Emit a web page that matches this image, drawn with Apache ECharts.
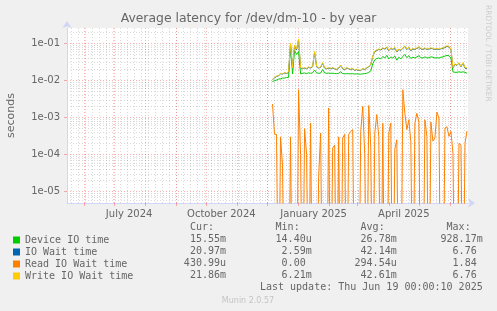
<!DOCTYPE html>
<html><head><meta charset="utf-8">
<script src="https://cdn.jsdelivr.net/npm/echarts@6/dist/echarts.min.js"></script>
<style>html,body{margin:0;padding:0;background:#f0f0f0}#c{width:497px;height:311px}</style>
</head><body><div id="c"></div>
<script>
// ---- data ----
const startDay = Date.UTC(2024, 11, 6);   // first sample
const stepDays = 2;                        // spacing of samples
const deviceIO = [0.0093,0.0098,0.0102,0.0108,0.011,0.0115,0.0115,0.012,0.012,0.08,
 0.015,0.065,0.05,0.06,0.015,0.0155,0.0158,0.0152,0.016,0.0155,
 0.016,0.019,0.016,0.0155,0.0157,0.0195,0.016,0.0155,0.0157,0.0155,
 0.0156,0.0153,0.0152,0.0155,0.017,0.0153,0.015,0.0152,0.0151,0.015,
 0.0152,0.0148,0.015,0.0148,0.0147,0.015,0.0152,0.0155,0.0165,0.018,
 0.028,0.036,0.039,0.04,0.038,0.044,0.04,0.047,0.038,0.043,
 0.04,0.045,0.035,0.042,0.038,0.044,0.05,0.041,0.046,0.039,
 0.042,0.04,0.043,0.046,0.041,0.04,0.043,0.04,0.041,0.043,
 0.042,0.04,0.041,0.04,0.042,0.043,0.045,0.047,0.046,0.04,
 0.017,0.0165,0.0165,0.017,0.0165,0.017,0.0165,0.0155];
const ioWait = [0.0105,0.0117,0.0127,0.0132,0.0152,0.0147,0.0158,0.0152,0.0166,0.095,
 0.0215,0.086,0.067,0.125,0.0215,0.0205,0.0214,0.0205,0.0224,0.0215,
 0.0234,0.057,0.0234,0.0215,0.0224,0.029,0.0215,0.0205,0.0214,0.0205,
 0.0214,0.0205,0.0195,0.0214,0.0253,0.0205,0.0195,0.0214,0.0205,0.0195,
 0.0205,0.0185,0.0195,0.0185,0.0185,0.0205,0.0195,0.0214,0.0234,0.0263,
 0.044,0.06,0.064,0.068,0.066,0.073,0.07,0.077,0.063,0.073,
 0.068,0.075,0.058,0.068,0.064,0.073,0.082,0.068,0.077,0.063,
 0.07,0.068,0.073,0.077,0.071,0.068,0.073,0.068,0.07,0.073,
 0.071,0.068,0.07,0.068,0.071,0.073,0.077,0.082,0.08,0.068,
 0.0215,0.027,0.0254,0.029,0.0234,0.029,0.0214,0.021];
const readWait = [2.3e-3,3.5e-4,3.5e-4,0,3.0e-4,5e-5,0,0,0,3e-4,
 0,0,0,5.6e-3,1e-4,0,5e-4,1e-4,0,7e-4,
 0,0,0,2.5e-5,3.8e-4,0,0,0,1.8e-3,0,
 1.5e-4,1.8e-4,0,3e-4,0,2.8e-4,3.5e-4,0,3.5e-4,4.2e-4,
 4.7e-4,0,0,0,4.2e-4,2e-3,1e-4,0,2.1e-3,1.6e-4,
 0,3.8e-4,1.2e-3,3.1e-4,0,7e-4,0,0,3.8e-4,7e-4,
 0,1.4e-4,2.5e-4,0,0,5.6e-3,1.3e-3,4.7e-4,8.7e-4,2.2e-4,
 0,7e-4,1.3e-3,7.5e-4,0,0,8.7e-4,3.1e-4,0,7.5e-4,
 2.3e-4,2.8e-4,1.4e-3,9.5e-4,0,0,5.2e-4,5.6e-4,3.1e-4,4.2e-4,
 1.1e-4,0,0,2e-4,1.8e-4,0,2e-4,4.3e-4];
const writeWait = [0.0108,0.012,0.013,0.0135,0.0156,0.015,0.0162,0.0156,0.017,0.1,
 0.022,0.09,0.07,0.13,0.022,0.021,0.022,0.021,0.023,0.022,
 0.024,0.06,0.024,0.022,0.023,0.03,0.022,0.021,0.022,0.021,
 0.022,0.021,0.02,0.022,0.026,0.021,0.02,0.022,0.021,0.02,
 0.021,0.019,0.02,0.019,0.019,0.021,0.02,0.022,0.024,0.027,
 0.045,0.062,0.066,0.07,0.068,0.075,0.072,0.08,0.065,0.075,
 0.07,0.078,0.06,0.07,0.066,0.075,0.085,0.07,0.08,0.065,
 0.072,0.07,0.075,0.08,0.073,0.07,0.075,0.07,0.072,0.075,
 0.073,0.07,0.072,0.07,0.073,0.075,0.08,0.085,0.083,0.07,
 0.022,0.028,0.026,0.03,0.024,0.03,0.022,0.022];

const seriesNames = ['Device IO time','IO Wait time','Read IO Wait time','Write IO Wait time'];
const seriesColors = ['#00cc00','#0066b3','#ff8000','#ffcc00'];
const statHeaders = ['Cur:','Min:','Avg:','Max:'];
const statCur = ['15.55m','20.97m','430.99u','21.86m'];
const statMin = ['14.40u','2.59m','0.00 ','6.21m'];
const statAvg = ['26.78m','42.14m','294.54u','42.61m'];
const statMax = ['928.17m','6.76 ','1.84 ','6.76 '];

const yTickValues = [1e-5, 1e-4, 1e-3, 1e-2, 1e-1];
const yTickLabels = ['1e-05','1e-04','1e-03','1e-02','1e-01'];
const xLabelDates = ['2024-07-16','2024-10-16','2025-01-16','2025-04-16'];
const xLabelTexts = ['July 2024','October 2024','January 2025','April 2025'];

const titleText = 'Average latency for /dev/dm-10 - by year';
const lastUpdate = 'Last update: Thu Jun 19 00:00:10 2025';
const footerText = 'Munin 2.0.57';
const sideText = 'RRDTOOL / TOBI OETIKER';

// ---- axis ranges / grids ----
const DAY = 86400000;
const xMin = Date.UTC(2024, 4, 15), xMax = Date.UTC(2025, 5, 19);
const yMin = 4.95e-6, yMax = 0.258;

const monthStarts = [];
for (let y = 2024, m = 5; y < 2025 || m <= 5; m++) { if (m > 11) { m = 0; y++; } monthStarts.push(Date.UTC(y, m, 1)); if (y === 2025 && m === 5) break; }
const weekLines = [];
for (let t = Date.UTC(2024, 4, 19); t <= xMax; t += 7 * DAY) weekLines.push(t);
const yMinor = [];
for (let k = -6; k <= -1; k++) for (let m = 2; m <= 9; m++) { const v = m * Math.pow(10, k); if (v > yMin && v < yMax) yMinor.push(+v.toPrecision(3)); }
const xLabelTs = xLabelDates.map(d => Date.parse(d + 'T00:00:00Z'));

const times = deviceIO.map((_, i) => startDay + i * stepDays * DAY);
const pairs = (arr) => arr.map((v, i) => [times[i], v > 0 ? v : 1e-9]);
const seriesData = [deviceIO, ioWait, readWait, writeWait];

const FONT = '"DejaVu Sans", sans-serif';
const MONO = '"DejaVu Sans Mono", monospace';
const TXT = '#666666';
const MGRID = 'rgba(255,0,0,0.3)';
const GRID = 'rgba(128,128,128,0.3)';

const chart = echarts.init(document.getElementById('c'), null, {renderer: 'canvas'});

const colRight = [226, 311.7, 396.7, 482.7];
const rowY = [239.7, 251.7, 263.7, 275.7];
const graphics = [];
statHeaders.forEach((h, c) => graphics.push({type: 'text', x: colRight[c], y: 227.5,
  style: {text: h + '  ', textAlign: 'right', textVerticalAlign: 'middle', font: '10px ' + MONO, fill: TXT}}));
[statCur, statMin, statAvg, statMax].forEach((col, c) => col.forEach((s, r) => graphics.push({type: 'text', x: colRight[c], y: rowY[r],
  style: {text: s, textAlign: 'right', textVerticalAlign: 'middle', font: '10px ' + MONO, fill: TXT}})));
graphics.push({type: 'text', x: 482.7, y: 287.8, style: {text: lastUpdate, textAlign: 'right', textVerticalAlign: 'middle', font: '10px ' + MONO, fill: TXT}});
graphics.push({type: 'text', x: 248, y: 300.8, style: {text: footerText, textAlign: 'center', textVerticalAlign: 'middle', font: '8px ' + FONT, fill: '#c4c4c4'}});
graphics.push({type: 'text', x: 487.5, y: 5, rotation: -Math.PI / 2, style: {text: sideText, textAlign: 'left', textVerticalAlign: 'middle', font: '7.5px ' + FONT, fill: '#cccccc'}});

chart.setOption({
  animation: false,
  backgroundColor: '#f0f0f0',
  title: {text: titleText, left: 'center', top: 12.5, padding: 0, textStyle: {fontFamily: FONT, fontSize: 12.4, fontWeight: 'normal', color: TXT}},
  grid: {left: 67, right: 29, top: 28, bottom: 108, show: true, backgroundColor: '#ffffff', borderWidth: 0, containLabel: false, outerBoundsMode: 'none'},
  legend: {data: seriesNames, orient: 'vertical', left: 13, top: 234, padding: 0, icon: 'rect', itemWidth: 7, itemHeight: 7, itemGap: 0,
    selectedMode: false, textStyle: {fontFamily: MONO, fontSize: 10, color: TXT, lineHeight: 12}},
  xAxis: [
    {type: 'value', position: 'bottom', min: xMin, max: xMax, axisLine: {show: false}, axisLabel: {show: false},
     axisTick: {show: false, customValues: weekLines},
     splitLine: {show: true, customValues: weekLines, lineStyle: {color: GRID, width: 1, type: [1, 2]}}},
    {type: 'value', position: 'bottom', min: xMin, max: xMax,
     axisLine: {show: true, lineStyle: {color: '#cfd6f8', width: 1}, symbol: ['none', 'arrow'], symbolSize: [7, 7], symbolOffset: [0, 7]},
     axisTick: {show: true, customValues: monthStarts, length: 3, lineStyle: {color: MGRID}},
     axisLabel: {customValues: xLabelTs, margin: 6, color: TXT, fontFamily: FONT, fontSize: 10,
       formatter: (v) => { let b = 0; xLabelTs.forEach((t, i) => { if (Math.abs(t - v) < Math.abs(xLabelTs[b] - v)) b = i; }); return xLabelTexts[b]; }},
     splitLine: {show: true, customValues: monthStarts, lineStyle: {color: MGRID, width: 1, type: [1, 2]}}}
  ],
  yAxis: [
    {type: 'log', position: 'left', logBase: 10, min: yMin, max: yMax, axisLine: {show: false}, axisLabel: {show: false},
     axisTick: {show: false, customValues: yMinor},
     splitLine: {show: true, customValues: yMinor, lineStyle: {color: GRID, width: 1, type: [1, 2]}}},
    {type: 'log', position: 'left', logBase: 10, min: yMin, max: yMax,
     name: 'seconds', nameLocation: 'middle', nameRotate: 90, nameGap: 50,
     nameTextStyle: {fontFamily: FONT, fontSize: 11, color: TXT},
     axisLine: {show: true, lineStyle: {color: '#cfd6f8', width: 1}, symbol: ['none', 'arrow'], symbolSize: [7, 7], symbolOffset: [0, 7]},
     axisTick: {show: true, customValues: yTickValues, length: 3, lineStyle: {color: MGRID}},
     axisLabel: {customValues: yTickValues, margin: 7, color: TXT, fontFamily: FONT, fontSize: 10,
       formatter: (v) => { const i = yTickValues.findIndex(t => Math.abs(Math.log10(t) - Math.log10(v)) < 0.01); return i >= 0 ? yTickLabels[i] : ''; }},
     splitLine: {show: true, customValues: yTickValues, lineStyle: {color: MGRID, width: 1, type: [1, 2]}}}
  ],
  series: seriesNames.map((n, k) => ({
    name: n, type: 'line', xAxisIndex: 1, yAxisIndex: 1, data: pairs(seriesData[k]),
    symbol: 'none', showSymbol: false, clip: true, color: seriesColors[k],
    lineStyle: {width: 1, color: seriesColors[k]}, emphasis: {disabled: true}
  })),
  graphic: graphics
});
</script></body></html>
